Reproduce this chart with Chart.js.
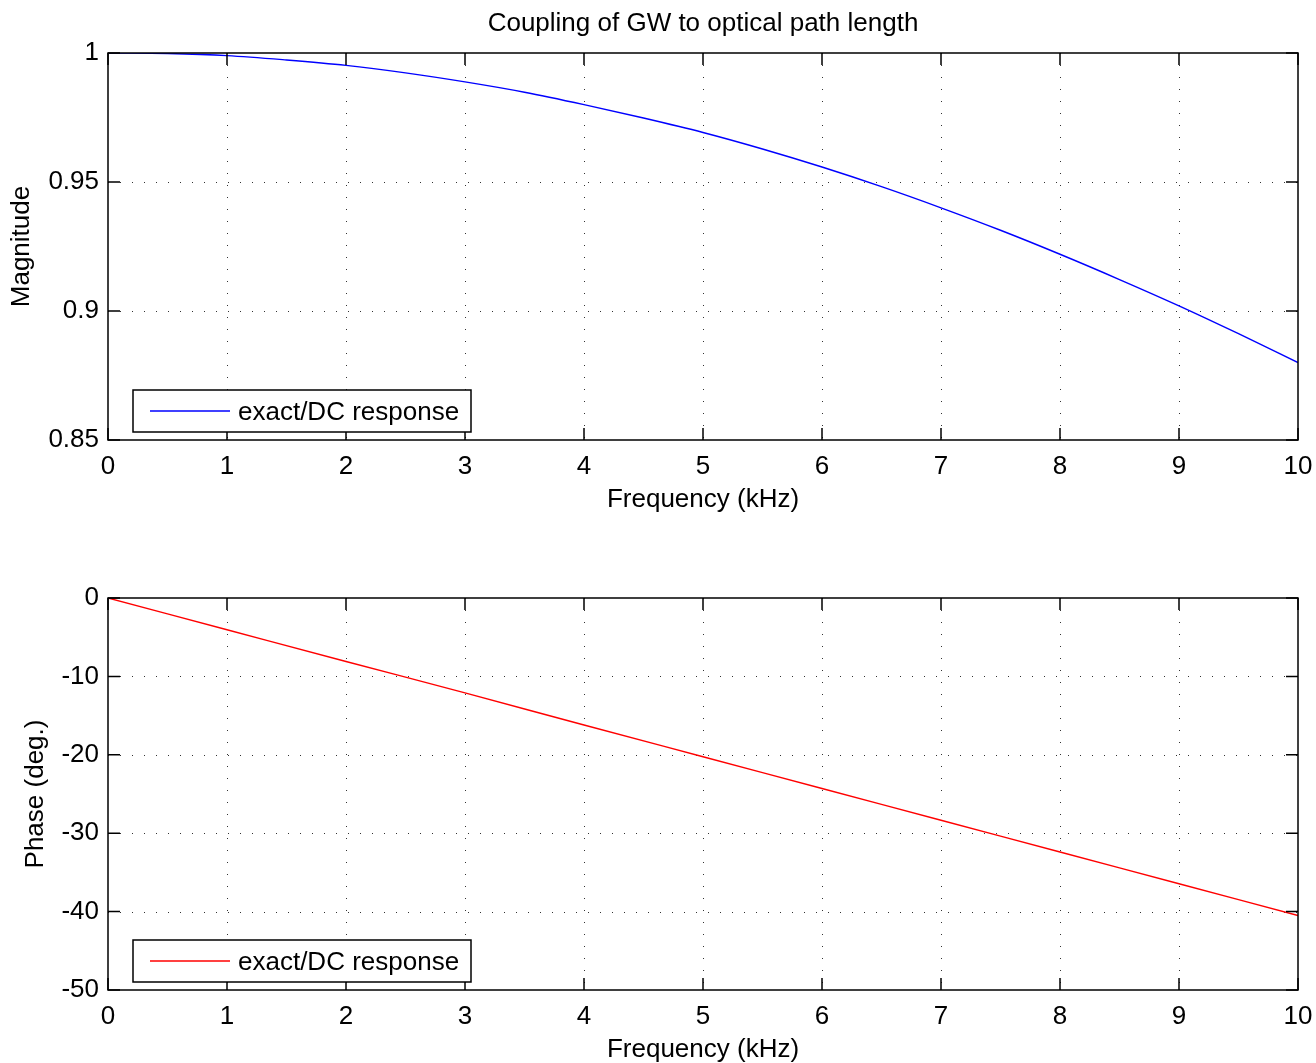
<!DOCTYPE html>
<html>
<head>
<meta charset="utf-8">
<script src="https://cdn.jsdelivr.net/npm/chart.js@4.4.1/dist/chart.umd.min.js"></script>
<style>
    html, body { margin: 0; padding: 0; background: #fff; }
    canvas { position: absolute; left: 0; }
    #mag-chart { top: 0; }
    #phase-chart { top: 530px; }
</style>
</head>
<body>
<canvas id="mag-chart" width="1316" height="530"></canvas>
<canvas id="phase-chart" width="1316" height="533"></canvas>
<script>
// values
const magFreq = [0, 0.5, 1, 1.5, 2, 2.5, 3, 3.5, 4, 4.5, 5, 5.5, 6, 6.5, 7, 7.5, 8, 8.5, 9, 9.5, 10];
const magnitude = [1.0, 0.9998, 0.999, 0.9973, 0.9952, 0.9923, 0.9888, 0.9848, 0.98, 0.9748, 0.9692,
    0.9628, 0.9558, 0.9482, 0.94, 0.9313, 0.922, 0.9122, 0.902, 0.8912, 0.88];
const phaseFreq = [0, 1, 2, 3, 4, 5, 6, 7, 8, 9, 10];
const phaseDeg = [0, -4.05, -8.1, -12.1, -16.2, -20.25, -24.3, -28.35, -32.4, -36.45, -40.5];
const freqTicks = [0, 1, 2, 3, 4, 5, 6, 7, 8, 9, 10];
const magTicks = [0.85, 0.9, 0.95, 1];
const phaseTicks = [-50, -40, -30, -20, -10, 0];

const FONT = 'Liberation Sans, Arial, Helvetica, sans-serif';
const TICK_LEN = 12;

// matlab style box, inward ticks, dotted grid, title and legend
const matlabAxes = {
    id: 'matlabAxes',
    beforeDatasetsDraw(chart, args, opts) {
        const { ctx, chartArea: a, scales: { x, y } } = chart;
        ctx.save();
        ctx.strokeStyle = '#333';
        ctx.lineWidth = 1;
        ctx.setLineDash([1, 11]);
        x.ticks.forEach(t => {
            const px = Math.round(x.getPixelForValue(t.value)) + 0.5;
            if (px <= a.left + 1 || px >= a.right - 1) return;
            ctx.beginPath();
            ctx.moveTo(px, a.top);
            ctx.lineTo(px, a.bottom);
            ctx.stroke();
        });
        y.ticks.forEach(t => {
            const py = Math.round(y.getPixelForValue(t.value)) + 0.5;
            if (py <= a.top + 1 || py >= a.bottom - 1) return;
            ctx.beginPath();
            ctx.moveTo(a.left, py);
            ctx.lineTo(a.right, py);
            ctx.stroke();
        });
        ctx.restore();
    },
    afterDatasetsDraw(chart, args, opts) {
        const { ctx, chartArea: a, scales: { x, y } } = chart;
        ctx.save();
        ctx.strokeStyle = '#000';
        ctx.lineWidth = 1.5;
        ctx.beginPath();
        x.ticks.forEach(t => {
            const px = x.getPixelForValue(t.value);
            ctx.moveTo(px, a.bottom); ctx.lineTo(px, a.bottom - TICK_LEN);
            ctx.moveTo(px, a.top); ctx.lineTo(px, a.top + TICK_LEN);
        });
        y.ticks.forEach(t => {
            const py = y.getPixelForValue(t.value);
            ctx.moveTo(a.left, py); ctx.lineTo(a.left + TICK_LEN, py);
            ctx.moveTo(a.right, py); ctx.lineTo(a.right - TICK_LEN, py);
        });
        ctx.stroke();
        ctx.strokeRect(a.left, a.top, a.right - a.left, a.bottom - a.top);

        ctx.fillStyle = '#000';
        ctx.font = '26px ' + FONT;
        ctx.textBaseline = 'middle';
        if (opts.title) {
            ctx.textAlign = 'center';
            ctx.fillText(opts.title, (a.left + a.right) / 2, 24);
        }

        // legend box in the lower left corner
        const ds = chart.data.datasets[0];
        const bx = a.left + 25, by = a.bottom - 50, bw = 338, bh = 42;
        ctx.fillStyle = '#fff';
        ctx.fillRect(bx, by, bw, bh);
        ctx.strokeRect(bx, by, bw, bh);
        ctx.strokeStyle = ds.borderColor;
        ctx.lineWidth = 1.3;
        ctx.beginPath();
        ctx.moveTo(bx + 17, by + bh / 2);
        ctx.lineTo(bx + 97, by + bh / 2);
        ctx.stroke();
        ctx.fillStyle = '#000';
        ctx.textAlign = 'left';
        ctx.fillText(ds.label, bx + 105, by + bh / 2 + 2);
        ctx.restore();
    }
};

const makeChart = (canvas, cfg) => new Chart(canvas.getContext('2d'), {
    type: 'line',
    data: {
        datasets: [{
            label: 'exact/DC response',
            data: cfg.xs.map((v, i) => ({ x: v, y: cfg.ys[i] })),
            borderColor: cfg.color,
            borderWidth: 1.4,
            pointRadius: 0,
            cubicInterpolationMode: 'monotone',
            fill: false
        }]
    },
    options: {
        responsive: false,
        animation: false,
        layout: { padding: { top: cfg.padTop, right: 18, left: 0, bottom: 0 } },
        plugins: {
            legend: { display: false },
            tooltip: { enabled: false },
            title: { display: false },
            matlabAxes: { title: cfg.title }
        },
        scales: {
            x: {
                type: 'linear',
                min: 0,
                max: 10,
                afterBuildTicks: s => { s.ticks = freqTicks.map(v => ({ value: v })); },
                afterFit: s => {
                    s.height = cfg.xHeight;
                    s.paddingLeft = 0;
                    s.paddingRight = 0;
                },
                grid: { display: false, drawTicks: false },
                border: { display: false },
                ticks: { color: '#000', padding: 11, font: { family: FONT, size: 26 } },
                title: {
                    display: true,
                    text: 'Frequency (kHz)',
                    color: '#000',
                    font: { family: FONT, size: 26 },
                    padding: { top: 0, bottom: cfg.xTitlePad }
                }
            },
            y: {
                type: 'linear',
                min: cfg.yMin,
                max: cfg.yMax,
                afterBuildTicks: s => { s.ticks = cfg.yTicks.map(v => ({ value: v })); },
                afterFit: s => { s.width = 108; },
                grid: { display: false, drawTicks: false },
                border: { display: false },
                ticks: {
                    color: '#000',
                    padding: 9,
                    font: { family: FONT, size: 26 },
                    callback: v => String(+v.toFixed(2))
                },
                title: {
                    display: true,
                    text: cfg.yLabel,
                    color: '#000',
                    font: { family: FONT, size: 26 },
                    padding: { top: cfg.yTitlePad, bottom: 0 }
                }
            }
        }
    },
    plugins: [matlabAxes]
});

makeChart(document.getElementById('mag-chart'), {
    xs: magFreq, ys: magnitude, color: '#0000ff',
    title: 'Coupling of GW to optical path length',
    padTop: 53, xHeight: 90, xTitlePad: 15,
    yMin: 0.85, yMax: 1, yTicks: magTicks, yLabel: 'Magnitude', yTitlePad: 6
});

makeChart(document.getElementById('phase-chart'), {
    xs: phaseFreq, ys: phaseDeg, color: '#ff0000',
    title: null,
    padTop: 68, xHeight: 73, xTitlePad: -2,
    yMin: -50, yMax: 0, yTicks: phaseTicks, yLabel: 'Phase (deg.)', yTitlePad: 20
});
</script>
</body>
</html>
